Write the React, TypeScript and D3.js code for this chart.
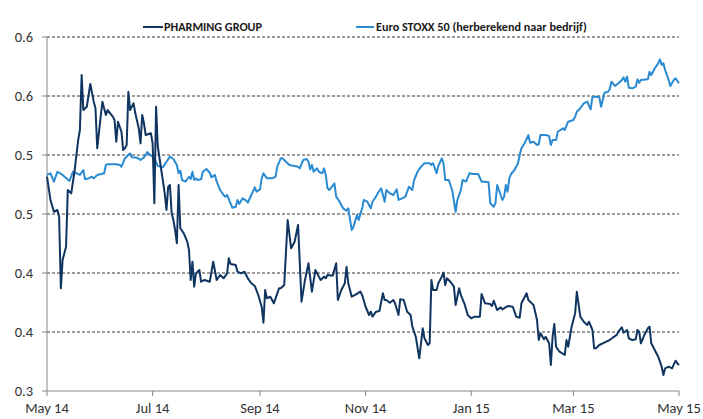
import React from 'react';
import * as d3 from 'd3';

// koersdata
const pharmingDates = [
  '2014-05-01', '2014-05-03', '2014-05-05', '2014-05-07', '2014-05-08', '2014-05-09', '2014-05-10', '2014-05-12', '2014-05-13', '2014-05-15',
  '2014-05-17', '2014-05-19', '2014-05-20', '2014-05-21', '2014-05-22', '2014-05-24', '2014-05-26', '2014-05-28', '2014-05-29', '2014-05-30',
  '2014-06-01', '2014-06-02', '2014-06-04', '2014-06-05', '2014-06-08', '2014-06-09', '2014-06-10', '2014-06-11', '2014-06-13', '2014-06-14',
  '2014-06-15', '2014-06-16', '2014-06-17', '2014-06-18', '2014-06-20', '2014-06-21', '2014-06-23', '2014-06-24', '2014-06-25', '2014-06-26',
  '2014-06-27', '2014-06-30', '2014-07-01', '2014-07-02', '2014-07-03', '2014-07-04', '2014-07-06', '2014-07-08', '2014-07-09', '2014-07-10',
  '2014-07-11', '2014-07-12', '2014-07-13', '2014-07-14', '2014-07-15', '2014-07-16', '2014-07-17', '2014-07-19', '2014-07-21', '2014-07-22',
  '2014-07-23', '2014-07-24', '2014-07-25', '2014-07-26', '2014-07-28', '2014-07-29', '2014-07-31', '2014-08-03', '2014-08-05', '2014-08-07',
  '2014-08-09', '2014-08-11', '2014-08-13', '2014-08-14', '2014-08-15', '2014-08-18', '2014-08-19', '2014-08-21', '2014-08-23', '2014-08-25',
  '2014-08-27', '2014-08-29', '2014-08-31', '2014-09-02', '2014-09-03', '2014-09-04', '2014-09-05', '2014-09-07', '2014-09-09', '2014-09-12',
  '2014-09-13', '2014-09-15', '2014-09-17', '2014-09-19', '2014-09-21', '2014-09-23', '2014-09-25', '2014-09-27', '2014-09-29', '2014-10-01',
  '2014-10-03', '2014-10-05', '2014-10-06', '2014-10-08', '2014-10-09', '2014-10-10', '2014-10-13', '2014-10-15', '2014-10-16', '2014-10-18',
  '2014-10-20', '2014-10-21', '2014-10-22', '2014-10-24', '2014-10-26', '2014-10-29', '2014-10-30', '2014-11-01', '2014-11-03', '2014-11-04',
  '2014-11-05', '2014-11-07', '2014-11-09', '2014-11-11', '2014-11-12', '2014-11-13', '2014-11-15', '2014-11-17', '2014-11-18', '2014-11-20',
  '2014-11-21', '2014-11-23', '2014-11-25', '2014-11-27', '2014-11-28', '2014-11-30', '2014-12-02', '2014-12-03', '2014-12-04', '2014-12-05',
  '2014-12-07', '2014-12-08', '2014-12-09', '2014-12-10', '2014-12-12', '2014-12-13', '2014-12-15', '2014-12-16', '2014-12-17', '2014-12-18',
  '2014-12-20', '2014-12-22', '2014-12-23', '2014-12-25', '2014-12-26', '2014-12-28', '2014-12-30', '2015-01-01', '2015-01-03', '2015-01-06',
  '2015-01-07', '2015-01-09', '2015-01-12', '2015-01-13', '2015-01-14', '2015-01-16', '2015-01-18', '2015-01-19', '2015-01-22', '2015-01-25',
  '2015-01-27', '2015-01-29', '2015-01-30', '2015-02-02', '2015-02-03', '2015-02-06', '2015-02-08', '2015-02-09', '2015-02-10', '2015-02-12',
  '2015-02-13', '2015-02-15', '2015-02-16', '2015-02-17', '2015-02-18', '2015-02-19', '2015-02-21', '2015-02-24', '2015-02-25', '2015-02-26',
  '2015-02-28', '2015-03-02', '2015-03-03', '2015-03-05', '2015-03-07', '2015-03-09', '2015-03-10', '2015-03-12', '2015-03-13', '2015-03-14',
  '2015-03-16', '2015-03-18', '2015-03-20', '2015-03-22', '2015-03-24', '2015-03-26', '2015-03-27', '2015-03-29', '2015-03-30', '2015-04-01',
  '2015-04-02', '2015-04-04', '2015-04-06', '2015-04-07', '2015-04-08', '2015-04-09', '2015-04-11', '2015-04-13', '2015-04-14', '2015-04-15',
  '2015-04-17', '2015-04-19', '2015-04-21', '2015-04-22', '2015-04-23', '2015-04-25', '2015-04-27', '2015-04-29', '2015-04-30', '2015-05-01',
];
const pharmingValues = [
  0.4816, 0.4619, 0.4519, 0.4534, 0.4477, 0.3870, 0.4110, 0.4223, 0.4703, 0.4675,
  0.4873, 0.5127, 0.5212, 0.5678, 0.5381, 0.5409, 0.5602, 0.5452, 0.5396, 0.5057,
  0.5325, 0.5452, 0.5339, 0.5381, 0.5325, 0.5297, 0.5113, 0.5282, 0.5197, 0.5042,
  0.5057, 0.5085, 0.5536, 0.5381, 0.5438, 0.5353, 0.5226, 0.5099, 0.5339, 0.5269,
  0.5169, 0.5184, 0.5099, 0.4591, 0.5409, 0.5070, 0.4873, 0.4675, 0.4534, 0.4731,
  0.4746, 0.4506, 0.4449, 0.4364, 0.4252, 0.4746, 0.4379, 0.4336, 0.4265, 0.4195,
  0.3941, 0.4096, 0.3884, 0.3997, 0.4025, 0.3926, 0.3941, 0.3926, 0.4096, 0.3941,
  0.3983, 0.3955, 0.3997, 0.4125, 0.4076, 0.4068, 0.4011, 0.3997, 0.4011, 0.3955,
  0.3913, 0.3890, 0.3814, 0.3714, 0.3579, 0.3856, 0.3786, 0.3799, 0.3743, 0.3870,
  0.3870, 0.3898, 0.4449, 0.4209, 0.4265, 0.4407, 0.3757, 0.3941, 0.4082, 0.3842,
  0.4025, 0.3969, 0.3941, 0.3969, 0.3955, 0.3983, 0.3977, 0.4082, 0.3771, 0.3856,
  0.3913, 0.4053, 0.3913, 0.3799, 0.3814, 0.3842, 0.3814, 0.3714, 0.3644, 0.3672,
  0.3630, 0.3672, 0.3678, 0.3828, 0.3771, 0.3771, 0.3748, 0.3771, 0.3743, 0.3644,
  0.3777, 0.3771, 0.3672, 0.3644, 0.3545, 0.3460, 0.3277, 0.3404, 0.3531, 0.3447,
  0.3390, 0.3404, 0.3941, 0.3856, 0.3856, 0.3913, 0.3969, 0.4003, 0.3898, 0.3955,
  0.3926, 0.3884, 0.3729, 0.3870, 0.3814, 0.3743, 0.3644, 0.3616, 0.3630, 0.3630,
  0.3822, 0.3743, 0.3737, 0.3720, 0.3765, 0.3686, 0.3709, 0.3692, 0.3720, 0.3714,
  0.3630, 0.3621, 0.3743, 0.3828, 0.3771, 0.3729, 0.3602, 0.3432, 0.3489, 0.3438,
  0.3460, 0.3404, 0.3220, 0.3460, 0.3568, 0.3375, 0.3333, 0.3305, 0.3432, 0.3375,
  0.3545, 0.3658, 0.3842, 0.3630, 0.3587, 0.3559, 0.3587, 0.3517, 0.3362, 0.3362,
  0.3390, 0.3404, 0.3418, 0.3432, 0.3455, 0.3475, 0.3503, 0.3540, 0.3494, 0.3517,
  0.3447, 0.3432, 0.3438, 0.3517, 0.3503, 0.3404, 0.3475, 0.3531, 0.3545, 0.3404,
  0.3347, 0.3291, 0.3206, 0.3136, 0.3192, 0.3206, 0.3192, 0.3257, 0.3235, 0.3220,
];

const stoxxDates = [
  '2014-05-01', '2014-05-03', '2014-05-05', '2014-05-07', '2014-05-10', '2014-05-14', '2014-05-16', '2014-05-20', '2014-05-22', '2014-05-23',
  '2014-05-25', '2014-05-27', '2014-05-28', '2014-05-30', '2014-06-03', '2014-06-04', '2014-06-05', '2014-06-10', '2014-06-12', '2014-06-13',
  '2014-06-15', '2014-06-18', '2014-06-19', '2014-06-22', '2014-06-24', '2014-06-26', '2014-06-28', '2014-06-29', '2014-07-02', '2014-07-04',
  '2014-07-07', '2014-07-09', '2014-07-11', '2014-07-13', '2014-07-15', '2014-07-16', '2014-07-17', '2014-07-18', '2014-07-20', '2014-07-22',
  '2014-07-23', '2014-07-24', '2014-07-25', '2014-07-26', '2014-07-27', '2014-07-29', '2014-07-30', '2014-08-01', '2014-08-03', '2014-08-04',
  '2014-08-06', '2014-08-07', '2014-08-09', '2014-08-11', '2014-08-12', '2014-08-13', '2014-08-15', '2014-08-16', '2014-08-18', '2014-08-19',
  '2014-08-20', '2014-08-22', '2014-08-24', '2014-08-25', '2014-08-27', '2014-08-29', '2014-08-30', '2014-09-01', '2014-09-02', '2014-09-03',
  '2014-09-05', '2014-09-08', '2014-09-10', '2014-09-11', '2014-09-13', '2014-09-14', '2014-09-16', '2014-09-18', '2014-09-21', '2014-09-23',
  '2014-09-24', '2014-09-26', '2014-09-28', '2014-09-29', '2014-09-30', '2014-10-01', '2014-10-02', '2014-10-04', '2014-10-05', '2014-10-07',
  '2014-10-08', '2014-10-09', '2014-10-10', '2014-10-11', '2014-10-14', '2014-10-15', '2014-10-17', '2014-10-19', '2014-10-21', '2014-10-22',
  '2014-10-24', '2014-10-25', '2014-10-27', '2014-10-28', '2014-10-30', '2014-10-31', '2014-11-02', '2014-11-04', '2014-11-05', '2014-11-07',
  '2014-11-08', '2014-11-10', '2014-11-12', '2014-11-13', '2014-11-15', '2014-11-17', '2014-11-19', '2014-11-20', '2014-11-22', '2014-11-24',
  '2014-11-26', '2014-11-28', '2014-11-29', '2014-12-01', '2014-12-03', '2014-12-05', '2014-12-08', '2014-12-09', '2014-12-10', '2014-12-12',
  '2014-12-13', '2014-12-15', '2014-12-16', '2014-12-17', '2014-12-19', '2014-12-21', '2014-12-23', '2014-12-24', '2014-12-26', '2014-12-27',
  '2014-12-29', '2014-12-31', '2015-01-02', '2015-01-05', '2015-01-07', '2015-01-09', '2015-01-11', '2015-01-12', '2015-01-14', '2015-01-15',
  '2015-01-16', '2015-01-17', '2015-01-19', '2015-01-20', '2015-01-21', '2015-01-22', '2015-01-23', '2015-01-24', '2015-01-26', '2015-01-28',
  '2015-01-29', '2015-01-30', '2015-02-01', '2015-02-03', '2015-02-04', '2015-02-06', '2015-02-08', '2015-02-09', '2015-02-10', '2015-02-13',
  '2015-02-15', '2015-02-16', '2015-02-17', '2015-02-19', '2015-02-20', '2015-02-23', '2015-02-24', '2015-02-26', '2015-03-01', '2015-03-02',
  '2015-03-03', '2015-03-05', '2015-03-07', '2015-03-09', '2015-03-11', '2015-03-12', '2015-03-14', '2015-03-16', '2015-03-17', '2015-03-19',
  '2015-03-21', '2015-03-22', '2015-03-23', '2015-03-25', '2015-03-27', '2015-03-29', '2015-03-30', '2015-03-31', '2015-04-01', '2015-04-02',
  '2015-04-04', '2015-04-06', '2015-04-07', '2015-04-08', '2015-04-09', '2015-04-13', '2015-04-14', '2015-04-15', '2015-04-17', '2015-04-19',
  '2015-04-20', '2015-04-21', '2015-04-22', '2015-04-23', '2015-04-25', '2015-04-26', '2015-04-28', '2015-04-29', '2015-05-01',
];
const stoxxValues = [
  0.4831, 0.4845, 0.4774, 0.4858, 0.4831, 0.4780, 0.4858, 0.4831, 0.4873, 0.4794,
  0.4802, 0.4816, 0.4802, 0.4831, 0.4845, 0.4915, 0.4921, 0.4921, 0.4915, 0.4901,
  0.4972, 0.5014, 0.4980, 0.4977, 0.4958, 0.4980, 0.5025, 0.5008, 0.4972, 0.4907,
  0.4896, 0.4943, 0.4986, 0.4966, 0.4915, 0.4845, 0.4867, 0.4788, 0.4774, 0.4816,
  0.4797, 0.4858, 0.4788, 0.4802, 0.4788, 0.4794, 0.4858, 0.4881, 0.4850, 0.4811,
  0.4831, 0.4774, 0.4703, 0.4661, 0.4647, 0.4661, 0.4591, 0.4553, 0.4562, 0.4619,
  0.4585, 0.4633, 0.4613, 0.4596, 0.4661, 0.4726, 0.4689, 0.4709, 0.4802, 0.4845,
  0.4802, 0.4802, 0.4816, 0.4901, 0.4972, 0.4972, 0.4943, 0.4915, 0.4907, 0.4901,
  0.4887, 0.4958, 0.4966, 0.4943, 0.4879, 0.4915, 0.4858, 0.4887, 0.4858, 0.4845,
  0.4887, 0.4831, 0.4718, 0.4703, 0.4760, 0.4647, 0.4604, 0.4548, 0.4528, 0.4548,
  0.4364, 0.4392, 0.4492, 0.4449, 0.4548, 0.4619, 0.4604, 0.4548, 0.4604, 0.4647,
  0.4675, 0.4718, 0.4604, 0.4703, 0.4675, 0.4661, 0.4709, 0.4619, 0.4633, 0.4647,
  0.4731, 0.4703, 0.4788, 0.4858, 0.4901, 0.4930, 0.4930, 0.4915, 0.4930, 0.4845,
  0.4907, 0.4972, 0.4930, 0.4788, 0.4788, 0.4703, 0.4519, 0.4619, 0.4703, 0.4788,
  0.4774, 0.4845, 0.4839, 0.4839, 0.4774, 0.4774, 0.4769, 0.4591, 0.4562, 0.4591,
  0.4746, 0.4703, 0.4619, 0.4647, 0.4746, 0.4689, 0.4802, 0.4839, 0.4873, 0.4930,
  0.5000, 0.5057, 0.5104, 0.5169, 0.5104, 0.5113, 0.5085, 0.5091, 0.5169, 0.5169,
  0.5161, 0.5085, 0.5127, 0.5127, 0.5197, 0.5226, 0.5212, 0.5282, 0.5297, 0.5325,
  0.5367, 0.5396, 0.5438, 0.5452, 0.5387, 0.5494, 0.5494, 0.5489, 0.5409, 0.5528,
  0.5536, 0.5557, 0.5621, 0.5585, 0.5608, 0.5636, 0.5658, 0.5621, 0.5664, 0.5570,
  0.5565, 0.5579, 0.5641, 0.5613, 0.5636, 0.5641, 0.5706, 0.5678, 0.5735, 0.5777,
  0.5811, 0.5763, 0.5777, 0.5720, 0.5636, 0.5585, 0.5636, 0.5650, 0.5608,
];

const yTicks = [0.30, 0.35, 0.40, 0.45, 0.50, 0.55, 0.60];
const yTickLabels = ['0.3', '0.4', '0.4', '0.5', '0.5', '0.6', '0.6'];
const seriesNames = ['PHARMING GROUP', 'Euro STOXX 50 (herberekend naar bedrijf)'];
const seriesColors = ['#0f3560', '#2a8bd2'];

const width = 703;
const height = 419;
const margin = { top: 37, right: 24, bottom: 28, left: 47 };

const parseDate = d3.timeParse('%Y-%m-%d');
const axisFont = "Carlito, Calibri, 'Open Sans', sans-serif";
const legendFont = "Carlito, Calibri, 'Liberation Sans Narrow', 'Open Sans', sans-serif";

const App = () => {
  const x = d3.scaleTime()
    .domain([parseDate('2014-05-01'), parseDate('2015-05-01')])
    .range([margin.left, width - margin.right]);
  const y = d3.scaleLinear()
    .domain([0.30, 0.60])
    .range([height - margin.bottom, margin.top]);

  const line = d3.line<[Date, number]>()
    .x(d => x(d[0]))
    .y(d => y(d[1]));

  const pharming = pharmingDates.map((d, i) => [parseDate(d), pharmingValues[i]] as [Date, number]);
  const stoxx = stoxxDates.map((d, i) => [parseDate(d), stoxxValues[i]] as [Date, number]);

  const xTicks = x.ticks(d3.timeMonth.every(2));
  const fmt = d3.timeFormat('%b %y');
  const x0 = margin.left;
  const x1 = width - margin.right;
  const yBottom = height - margin.bottom;

  return (
    <div style={{ position: 'absolute', left: 0, top: 0 }}>
      <svg width={width} height={height} style={{ display: 'block', background: '#fff' }}>
        {/* rasterlijnen */}
        {yTicks.slice(1).map(t => (
          <line key={t} x1={x0} x2={x1} y1={y(t)} y2={y(t)}
            stroke="#222" strokeWidth={0.9} strokeDasharray="3,2" />
        ))}

        {/* assen */}
        <line x1={x0} x2={x0} y1={margin.top} y2={yBottom} stroke="#868686" strokeWidth={1} />
        <line x1={x0} x2={x1} y1={yBottom} y2={yBottom} stroke="#868686" strokeWidth={1} />
        {yTicks.map((t, i) => (
          <g key={'y' + i}>
            <line x1={x0 - 5} x2={x0} y1={y(t)} y2={y(t)} stroke="#868686" />
            <text x={x0 - 14} y={y(t)} dy="0.35em" textAnchor="end"
              fontFamily={axisFont} fontSize={14.5} fill="#333">{yTickLabels[i]}</text>
          </g>
        ))}
        {xTicks.map((t, i) => (
          <g key={'x' + i}>
            <line x1={x(t)} x2={x(t)} y1={yBottom} y2={yBottom + 5} stroke="#868686" />
            <text x={x(t)} y={yBottom + 22} textAnchor="middle"
              fontFamily={axisFont} fontSize={14.5} fill="#333">{fmt(t)}</text>
          </g>
        ))}

        {/* lijnen */}
        <path d={line(stoxx) || ''} fill="none" stroke={seriesColors[1]} strokeWidth={2} strokeLinejoin="round" />
        <path d={line(pharming) || ''} fill="none" stroke={seriesColors[0]} strokeWidth={2} strokeLinejoin="round" />

        {/* legenda */}
        <g fontFamily={legendFont} fontSize={12.2} fontWeight="bold" fill="#1a1a1a">
          <line x1={143} x2={163} y1={27} y2={27} stroke={seriesColors[0]} strokeWidth={2} />
          <text x={164} y={27} dy="0.35em">{seriesNames[0]}</text>
          <line x1={356} x2={374} y1={27} y2={27} stroke={seriesColors[1]} strokeWidth={2} />
          <text x={376} y={27} dy="0.35em">{seriesNames[1]}</text>
        </g>
      </svg>
    </div>
  );
};

export default App;
